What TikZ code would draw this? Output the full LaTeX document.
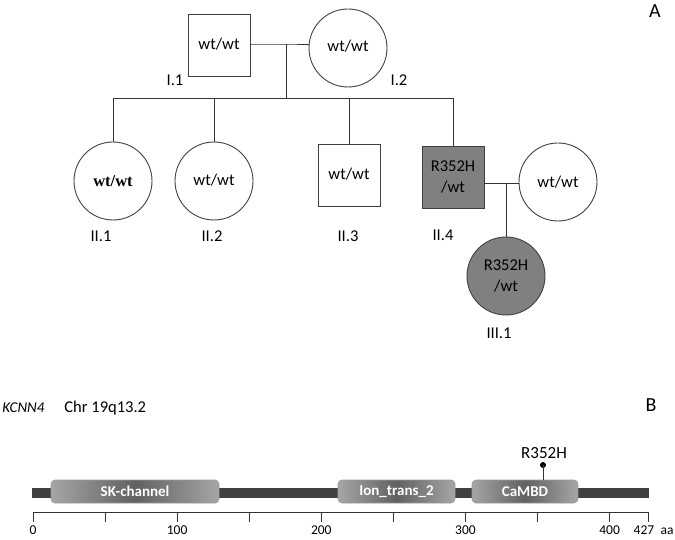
\documentclass[tikz,border=0pt]{standalone}
\usepackage{fontspec}
\setmainfont{Carlito}
\newfontfamily\tnr{Liberation Serif}
\begin{document}
\begin{tikzpicture}[x=1pt,y=-1pt,
  line width=0.9pt,
  ped/.style={draw=black!75, inner sep=0pt, outer sep=0pt, font=\fontsize{16.5}{21.5}\selectfont, align=center},
  male/.style={ped, rectangle, minimum width=62, minimum height=62},
  female/.style={ped, circle, minimum size=78},
  aff/.style={fill=black!50},
  lbl/.style={font=\fontsize{16.5}{20}\selectfont, inner sep=0pt},
  conn/.style={draw=black!80},
  dom/.style={rounded corners=4pt, draw=black!40, line width=0.6pt, left color=black!35, right color=black!35, middle color=black!62, text=white, font=\bfseries\fontsize{15}{18}\selectfont, inner sep=0pt, minimum height=23},
  tickl/.style={font=\fontsize{13.5}{16}\selectfont, inner sep=0pt}
]
\useasboundingbox (0,0) rectangle (675,540);

% ---- Pedigree (A)
\node[male] (I1) at (219,45) {\raisebox{3pt}{wt/wt}};
\node[female] (I2) at (348,48) {\raisebox{4pt}{wt/wt}};
\node[female] (II1) at (113,181) {\tnr\bfseries wt/wt};
\node[female] (II2) at (214,181) {\raisebox{2pt}{wt/wt}};
\node[male] (II3) at (349,175) {\raisebox{2pt}{wt/wt}};
\node[male, aff] (II4) at (453,177) {R352H\\/wt};
\node[female] (S) at (558,182) {wt/wt};
\node[female, aff] (III1) at (506,276) {R352H\\/wt};

\coordinate (m1) at (286,44);
\coordinate (s1) at (286,98);
\draw[conn] (I1.east |- m1) -- (m1) -- (I2.west |- m1);
\draw[conn] (m1) -- (s1);
\draw[conn] (II1.north |- s1) -- (II4.north |- s1);
\foreach \n in {II1,II2,II3,II4} \draw[conn] (\n.north |- s1) -- (\n.north);
\coordinate (m2) at (506,183);
\draw[conn] (II4.east |- m2) -- (S.west |- m2);
\draw[conn] (m2) -- (III1.north);

\node[lbl] (lI1) at (175,80) {I.1};
\node[lbl] (lI2) at (399,80) {I.2};
\node[lbl] (lII1) at (101,236) {II.1};
\node[lbl] (lII2) at (212,236) {II.2};
\node[lbl] (lII3) at (348,236) {II.3};
\node[lbl] (lII4) at (443,235) {II.4};
\node[lbl] (lIII1) at (499,333) {III.1};
\node[font=\fontsize{20}{24}\selectfont, inner sep=0pt] (A) at (655,11) {A};

% ---- Protein (B)
\node[font=\itshape\fontsize{15}{18}\selectfont, anchor=west, inner sep=0pt] (gene) at (2,408) {KCNN4};
\node[font=\fontsize{16.5}{20}\selectfont, anchor=west, inner sep=0pt] (chr) at (64,408) {Chr 19q13.2};
\node[font=\fontsize{20}{24}\selectfont, inner sep=0pt] (B) at (651,405) {B};

\node[fill=black!75, minimum width=617, minimum height=10, inner sep=0pt, outer sep=0pt] (bar) at (340.5,493) {};
\node[dom, minimum width=168] (sk) at (135,491.5) {SK-channel};
\node[dom, minimum width=117] (ion) at (396.5,491.5) {Ion\_trans\_2};
\node[dom, minimum width=106] (cam) at (525,491.5) {CaMBD};

\node[circle, fill=black, minimum size=6, inner sep=0pt] (dot) at (543,465) {};
\draw[black!80, line width=0.8pt] (dot.center) -- (dot.center |- cam.north);
\node[font=\fontsize{17}{20}\selectfont, inner sep=0pt] (mut) at (544,453) {R352H};

\draw[black!80, line width=0.8pt] (33,512) -- (648.5,512);
\foreach \v in {0,50,100,150,200,250,300,350,400,427}
  \draw[black!80, line width=0.8pt] (33+1.4415*\v,512) -- ++(0,10);
\foreach \v in {0,100,200,300,400}
  \node[tickl] at (33+1.4415*\v,530) {\v};
\node[tickl] (t427) at (644,530) {427};
\node[tickl] (aa) at (667,531) {aa};
\end{tikzpicture}
\end{document}
